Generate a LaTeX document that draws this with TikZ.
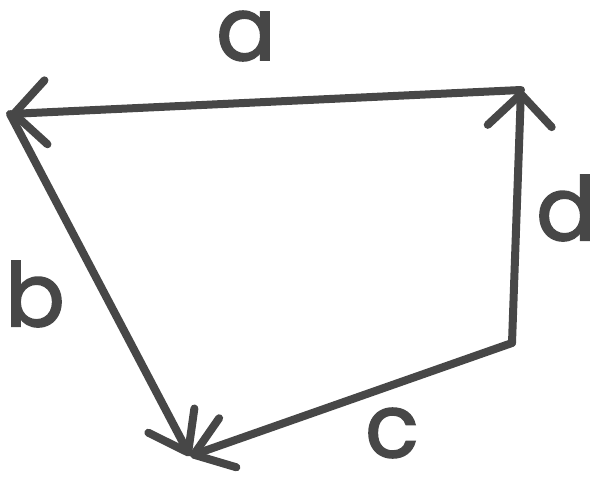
\documentclass[tikz,border=0pt]{standalone}
\usepackage{fontspec}
\setmainfont{Poppins}
\newfontfamily\lblfont[FakeBold=2]{Poppins}
\usetikzlibrary{arrows.meta}
\definecolor{ink}{HTML}{474747}
\begin{document}
\begin{tikzpicture}[x=1pt,y=-1pt,
  vec/.style={draw=ink, line width=8pt, line cap=round, line join=round},
  tipa/.style={-{Straight Barb[length=32pt,width=64pt,round]}},
  tipb/.style={-{Straight Barb[length=36pt,width=52pt,round]}},
  lbl/.style={text=ink, font=\lblfont\fontsize{88}{88}\selectfont, inner sep=0pt}]
\useasboundingbox (0,0) rectangle (595,487);
\coordinate (A) at (10,114);
\coordinate (D) at (521,90);
\coordinate (C) at (512,343);
\coordinate (B) at (190,456);
\draw[vec,tipa] (D) -- (A);
\draw[vec,tipb] (A) -- (B);
\draw[vec,tipb] (C) -- (B);
\draw[vec,tipa] (C) -- (D);
\node[lbl] (la) at (246,36) {a};
\node[lbl] (lb) at (35,294) {b};
\node[lbl] (lc) at (392,433) {c};
\node[lbl] (ld) at (566,208) {d};
\end{tikzpicture}
\end{document}
